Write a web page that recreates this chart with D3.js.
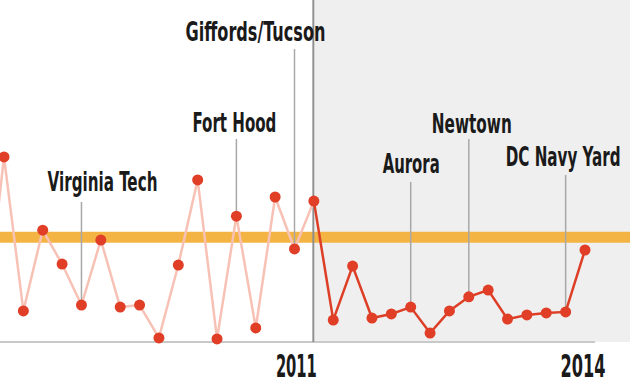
<!DOCTYPE html>
<html>
<head>
<meta charset="utf-8">
<script src="https://cdn.jsdelivr.net/npm/d3@7"></script>
<style>
  body { margin: 0; background: #fff; }
  svg { display: block; }
  text { font-family: "Liberation Sans Narrow", "DejaVu Sans Condensed", sans-serif; fill: #1a1a1a; }
</style>
</head>
<body>
<div id="chart"></div>
<script>
// data (index -1 is the point cut off at the left edge)
var pointIndex = d3.range(-1, 31);
var values = [3.5, 54.1, 9.1, 32.7, 22.8, 10.8, 29.8, 10.2, 10.8, 1.2, 22.5,
              47.4, 0.9, 36.8, 4.1, 42.4, 27.2, 41.2, 6.4, 22.2, 7.0, 8.2,
              10.2, 2.6, 9.1, 13.2, 15.2, 6.7, 7.9, 8.5, 8.8, 26.9];
var splitIndex = 16;          // where the shaded period starts
var averageValue = 30.6;      // orange band

var eventNames = ["Virginia Tech", "Fort Hood", "Giffords/Tucson", "Aurora", "Newtown", "DC Navy Yard"];
var eventIndex = [4, 12, 15, 21, 24, 29];

var tickLabels = ["2011", "2014"];
var tickIndex = [16, 30.9];

// label placement: offset from the leader line, baseline y, width to fit, gap to line
var labelLayout = [
  {dx: 21, y: 191, w: 110, gap: 11}, {dx: -2, y: 132, w: 84, gap: 7}, {dx: -39, y: 41, w: 140, gap: 8},
  {dx: 0.5, y: 173, w: 57, gap: 9}, {dx: 3, y: 133, w: 80, gap: 6}, {dx: -2.5, y: 166, w: 115, gap: 9}
];
var tickWidths = [41, 45];

var width = 630, height = 384, baseY = 342;

var svg = d3.select("#chart").append("svg")
    .attr("width", width)
    .attr("height", height);

var x = d3.scaleLinear().domain([0, 30]).range([4, 585]);
var y = d3.scaleLinear().domain([0, 100]).range([baseY, 0]);

var data = pointIndex.map(function(d, i) { return {i: d, v: values[i]}; });

// shaded period
svg.append("rect")
    .attr("x", x(splitIndex) + 1)
    .attr("y", 0)
    .attr("width", width - x(splitIndex) - 1)
    .attr("height", baseY)
    .style("fill", "#efefef");

// baseline
svg.append("line")
    .attr("x1", 0).attr("x2", 595)
    .attr("y1", baseY).attr("y2", baseY)
    .style("stroke", "#c9c9c9")
    .style("stroke-width", 2);

// average band
svg.append("line")
    .attr("x1", 0).attr("x2", width)
    .attr("y1", y(averageValue)).attr("y2", y(averageValue))
    .style("stroke", "#f4b443")
    .style("stroke-width", 11);

// split line
svg.append("line")
    .attr("x1", x(splitIndex) - 0.5).attr("x2", x(splitIndex) - 0.5)
    .attr("y1", 0).attr("y2", baseY)
    .style("stroke", "#8e8e8e")
    .style("stroke-width", 2);

// leader lines
svg.selectAll(".leader")
    .data(eventIndex)
  .enter().append("line")
    .attr("class", "leader")
    .attr("x1", function(d) { return x(d); })
    .attr("x2", function(d) { return x(d); })
    .attr("y1", function(d, i) { return labelLayout[i].y + labelLayout[i].gap; })
    .attr("y2", function(d) { return y(values[d + 1]); })
    .style("stroke", "#a8a8a8")
    .style("stroke-width", 1.5);

var line = d3.line()
    .x(function(d) { return x(d.i); })
    .y(function(d) { return y(d.v); });

svg.append("path")
    .datum(data.filter(function(d) { return d.i <= splitIndex; }))
    .attr("d", line)
    .style("fill", "none")
    .style("stroke", "#f7c2b5")
    .style("stroke-width", 2.5);

svg.append("path")
    .datum(data.filter(function(d) { return d.i >= splitIndex; }))
    .attr("d", line)
    .style("fill", "none")
    .style("stroke", "#dd3e26")
    .style("stroke-width", 2.5);

svg.selectAll(".dot")
    .data(data)
  .enter().append("circle")
    .attr("class", "dot")
    .attr("cx", function(d) { return x(d.i); })
    .attr("cy", function(d) { return y(d.v); })
    .attr("r", 5.5)
    .style("fill", "#e03e26");

// squeeze a text horizontally so it fits the condensed face of the original
function fit(sel, px, py, w) {
  var natural = sel.node().getComputedTextLength();
  sel.attr("transform", "translate(" + px + "," + py + ") scale(" + (w / natural) + ",1)");
}

// event labels
svg.selectAll(".label")
    .data(eventNames)
  .enter().append("text")
    .attr("class", "label")
    .attr("text-anchor", "middle")
    .style("font-size", "26px")
    .style("font-weight", "bold")
    .text(function(d) { return d; })
    .each(function(d, i) {
      fit(d3.select(this), x(eventIndex[i]) + labelLayout[i].dx, labelLayout[i].y, labelLayout[i].w);
    });

// year ticks
svg.selectAll(".tick")
    .data(tickLabels)
  .enter().append("text")
    .attr("class", "tick")
    .attr("text-anchor", "end")
    .style("font-size", "32px")
    .style("font-weight", "bold")
    .text(function(d) { return d; })
    .each(function(d, i) {
      fit(d3.select(this), x(tickIndex[i]) + 3, 377, tickWidths[i]);
    });
</script>
</body>
</html>
